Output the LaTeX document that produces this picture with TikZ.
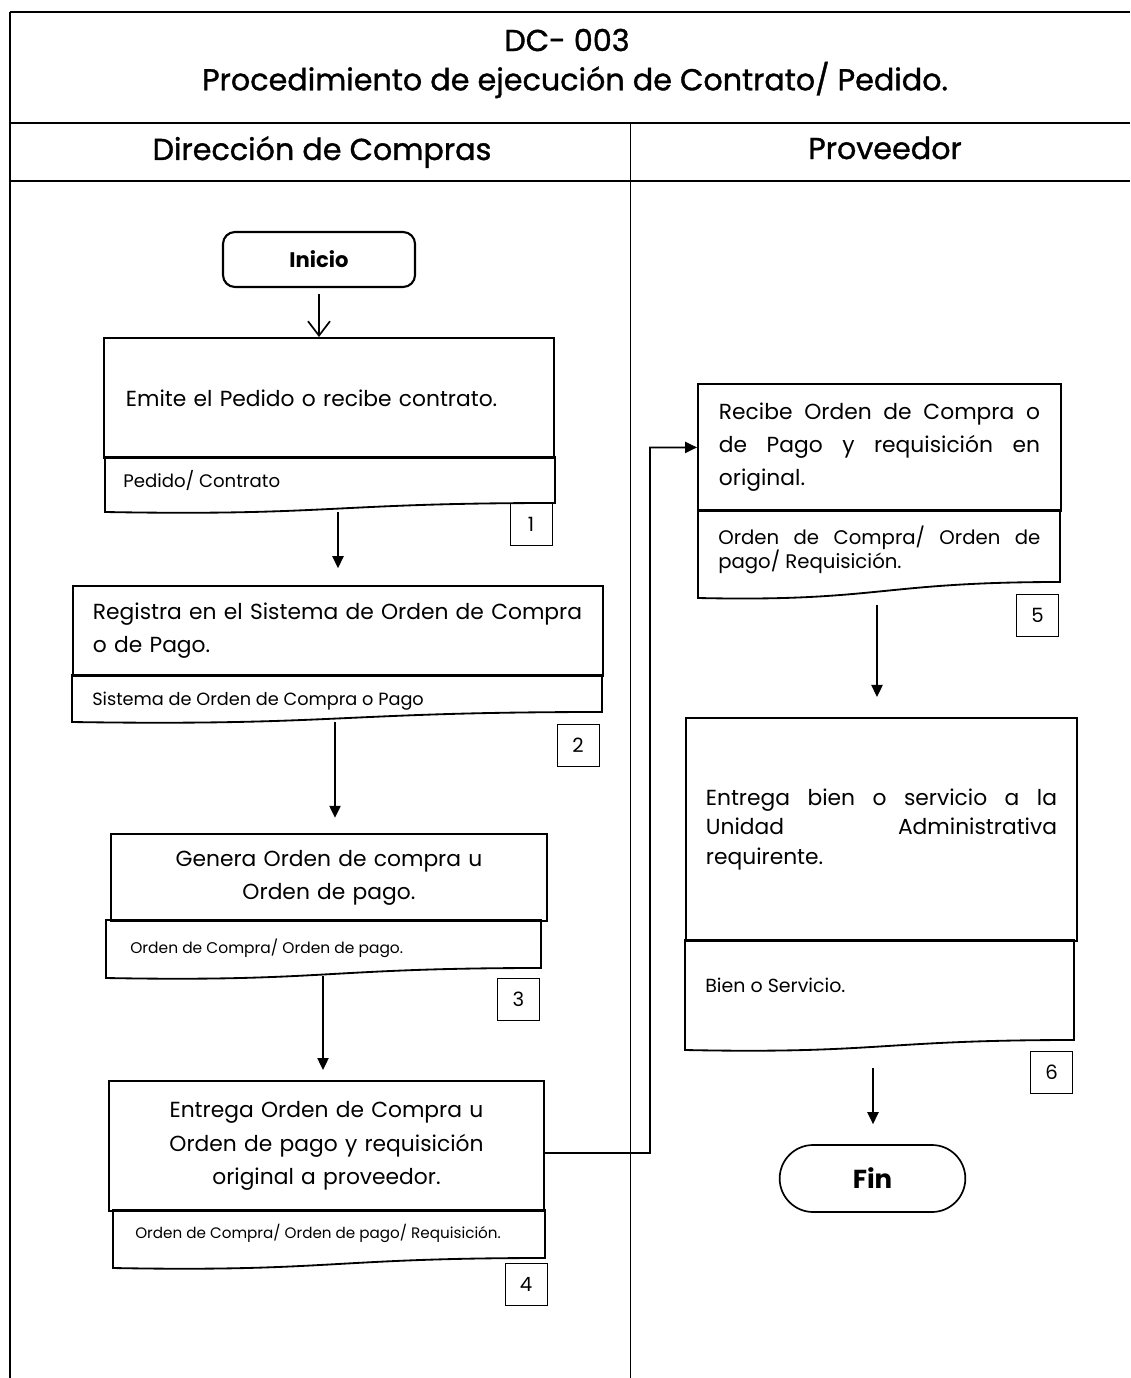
\documentclass[tikz,border=0pt]{standalone}
\usepackage{fontspec}
\setmainfont{Poppins}
\newfontfamily\titlefont[FakeBold=1.2]{Poppins}
\usetikzlibrary{arrows.meta,shapes.misc}
\newcommand\docshape[5]{% x0 y0 x1 yb yr
  \draw[docline] (#1,#2) -- (#3,#2) -- (#3,#5)
    .. controls ({(#1+#3)/2},{#5}) and ({(#1+#3)/2},{#4+4}) .. (#1,#4) -- cycle;}
\begin{document}
\begin{tikzpicture}[x=0.025cm,y=-0.025cm,
  frameline/.style={line width=0.9pt},
  docline/.style={line width=1.3pt},
  pbox/.style={draw, line width=1.3pt, anchor=north west, inner ysep=0pt,
    font=\fontsize{15.5}{23.5}\selectfont},
  doctext/.style={anchor=west, inner sep=0pt},
  numbox/.style={draw, line width=0.7pt, minimum size=1.05cm, inner sep=0pt,
    font=\fontsize{14}{16}\selectfont},
  openarr/.style={line width=1.2pt, -{Straight Barb[length=0.36cm,width=0.55cm]}},
  arr/.style={line width=1.2pt, -{Triangle[length=0.3cm,width=0.28cm]}},
  title/.style={font=\titlefont\fontsize{21.5}{24}\selectfont, inner sep=0pt}]
\useasboundingbox (0,0) rectangle (1130,1378);
% frame
\draw[frameline] (10,12) -- (1130,12);
\draw[frameline] (10,12) -- (10,1378);
\draw[frameline] (10,123) -- (1130,123);
\draw[frameline] (10,181) -- (1130,181);
\draw[line width=0.6pt] (630,123) -- (630,1378);
\node[title] (t1) at (567,40) {DC- 003};
\node[title] (t2) at (575,80) {Procedimiento de ejecución de Contrato/ Pedido.};
\node[title] (h1) at (322,152) {Dirección de Compras};
\node[title] (h2) at (885,148) {Proveedor};
% start
\node[draw, rounded corners=0.3cm, line width=1.5pt, minimum width=4.8cm,
  minimum height=1.375cm, font=\bfseries\fontsize{15}{17}\selectfont] (ini) at (319,259.5) {Inicio};
% box 1
\node[pbox, inner xsep=0.55cm, text width=10.15cm, minimum height=3cm, align=left] (b1) at (103,337)
  {Emite el Pedido o recibe contrato.};
\docshape{105}{457}{555}{512}{503}
\node[doctext, font=\fontsize{12.9}{15}\selectfont] (d1) at (123,480) {Pedido/ Contrato};
\node[numbox] (n1) at (531,524.5) {1};
\coordinate (d1o) at (338,512);
% box 2
\node[pbox, inner xsep=0.5cm, text width=12.25cm, minimum height=2.25cm, align=left] (b2) at (72,585)
  {Registra en el Sistema de Orden de Compra\\o de Pago.};
\docshape{72}{675}{602}{722}{712}
\node[doctext, font=\fontsize{12.6}{15}\selectfont] (d2) at (92,701) {Sistema de Orden de Compra o Pago};
\node[numbox] (n2) at (578,745) {2};
\coordinate (d2o) at (335,722);
% box 3
\node[pbox, inner xsep=0.5cm, text width=9.9cm, minimum height=2.175cm, align=center] (b3) at (110,833)
  {Genera Orden de compra u\\Orden de pago.};
\docshape{106}{920}{541}{978}{968}
\node[doctext, font=\fontsize{11}{13}\selectfont] (d3) at (130,948) {Orden de Compra/ Orden de pago.};
\node[numbox] (n3) at (518.5,999) {3};
\coordinate (d3o) at (323,976);
% box 4
\node[pbox, inner xsep=0.5cm, text width=9.875cm, minimum height=3.25cm, align=center,
  font=\fontsize{15.5}{24}\selectfont] (b4) at (108,1080)
  {Entrega Orden de Compra u\\Orden de pago y requisición\\original a proveedor.};
\docshape{113}{1210}{545}{1268}{1258}
\node[doctext, font=\fontsize{10.8}{13}\selectfont] (d4) at (135,1233) {Orden de Compra/ Orden de pago/ Requisición.};
\node[numbox] (n4) at (526,1284.5) {4};
% box 5
\node[pbox, inner xsep=0.525cm, text width=8.025cm, minimum height=3.175cm, align=justify] (b5) at (697,383)
  {Recibe Orden de Compra o\linebreak de Pago y requisición en\linebreak original.};
\docshape{698}{510}{1060}{598}{582}
\node[doctext, anchor=west, inner xsep=0.5cm, text width=8.05cm, align=justify,
  font=\fontsize{14}{17}\selectfont] (d5) at (698,550)
  {Orden de Compra/ Orden de\linebreak pago/ Requisición.};
\node[numbox] (n5) at (1037.5,615) {5};
\coordinate (d5o) at (877,605);
% box 6
\node[pbox, inner xsep=0.5cm, text width=8.775cm, minimum height=5.575cm, align=justify,
  font=\fontsize{15.5}{21}\selectfont] (b6) at (685,717)
  {Entrega bien o servicio a la\linebreak Unidad Administrativa\linebreak requirente.};
\docshape{685}{940}{1074}{1050}{1040}
\node[doctext, font=\fontsize{13.5}{15}\selectfont] (d6) at (705,985) {Bien o Servicio.};
\node[numbox] (n6) at (1051.5,1072.5) {6};
\coordinate (d6o) at (873,1068);
% end
\node[draw, rounded rectangle, line width=1.2pt, minimum width=4.875cm, minimum height=1.675cm,
  font=\bfseries\fontsize{18.5}{20}\selectfont] (fin) at (872.5,1178.5) {Fin};
% connectors
\coordinate (jx) at (650,0);
\draw[openarr, shorten <=0.15cm] (ini.south) -- (ini.south |- b1.north);
\draw[arr, shorten >=0.42cm] (d1o) -- (d1o |- b2.north);
\draw[arr, shorten >=0.38cm] (d2o) -- (d2o |- b3.north);
\draw[arr, shorten >=0.25cm] (d3o) -- (d3o |- b4.north);
\draw[arr] (b4.east) ++(0,7) -- ([yshift=-0.175cm]b4.east -| jx) -- (jx |- b5.west) -- (b5.west);
\draw[arr, shorten >=0.5cm] (d5o) -- (d5o |- b6.north);
\draw[arr, shorten >=0.5cm] (d6o) -- (d6o |- fin.north);
\end{tikzpicture}
\end{document}
